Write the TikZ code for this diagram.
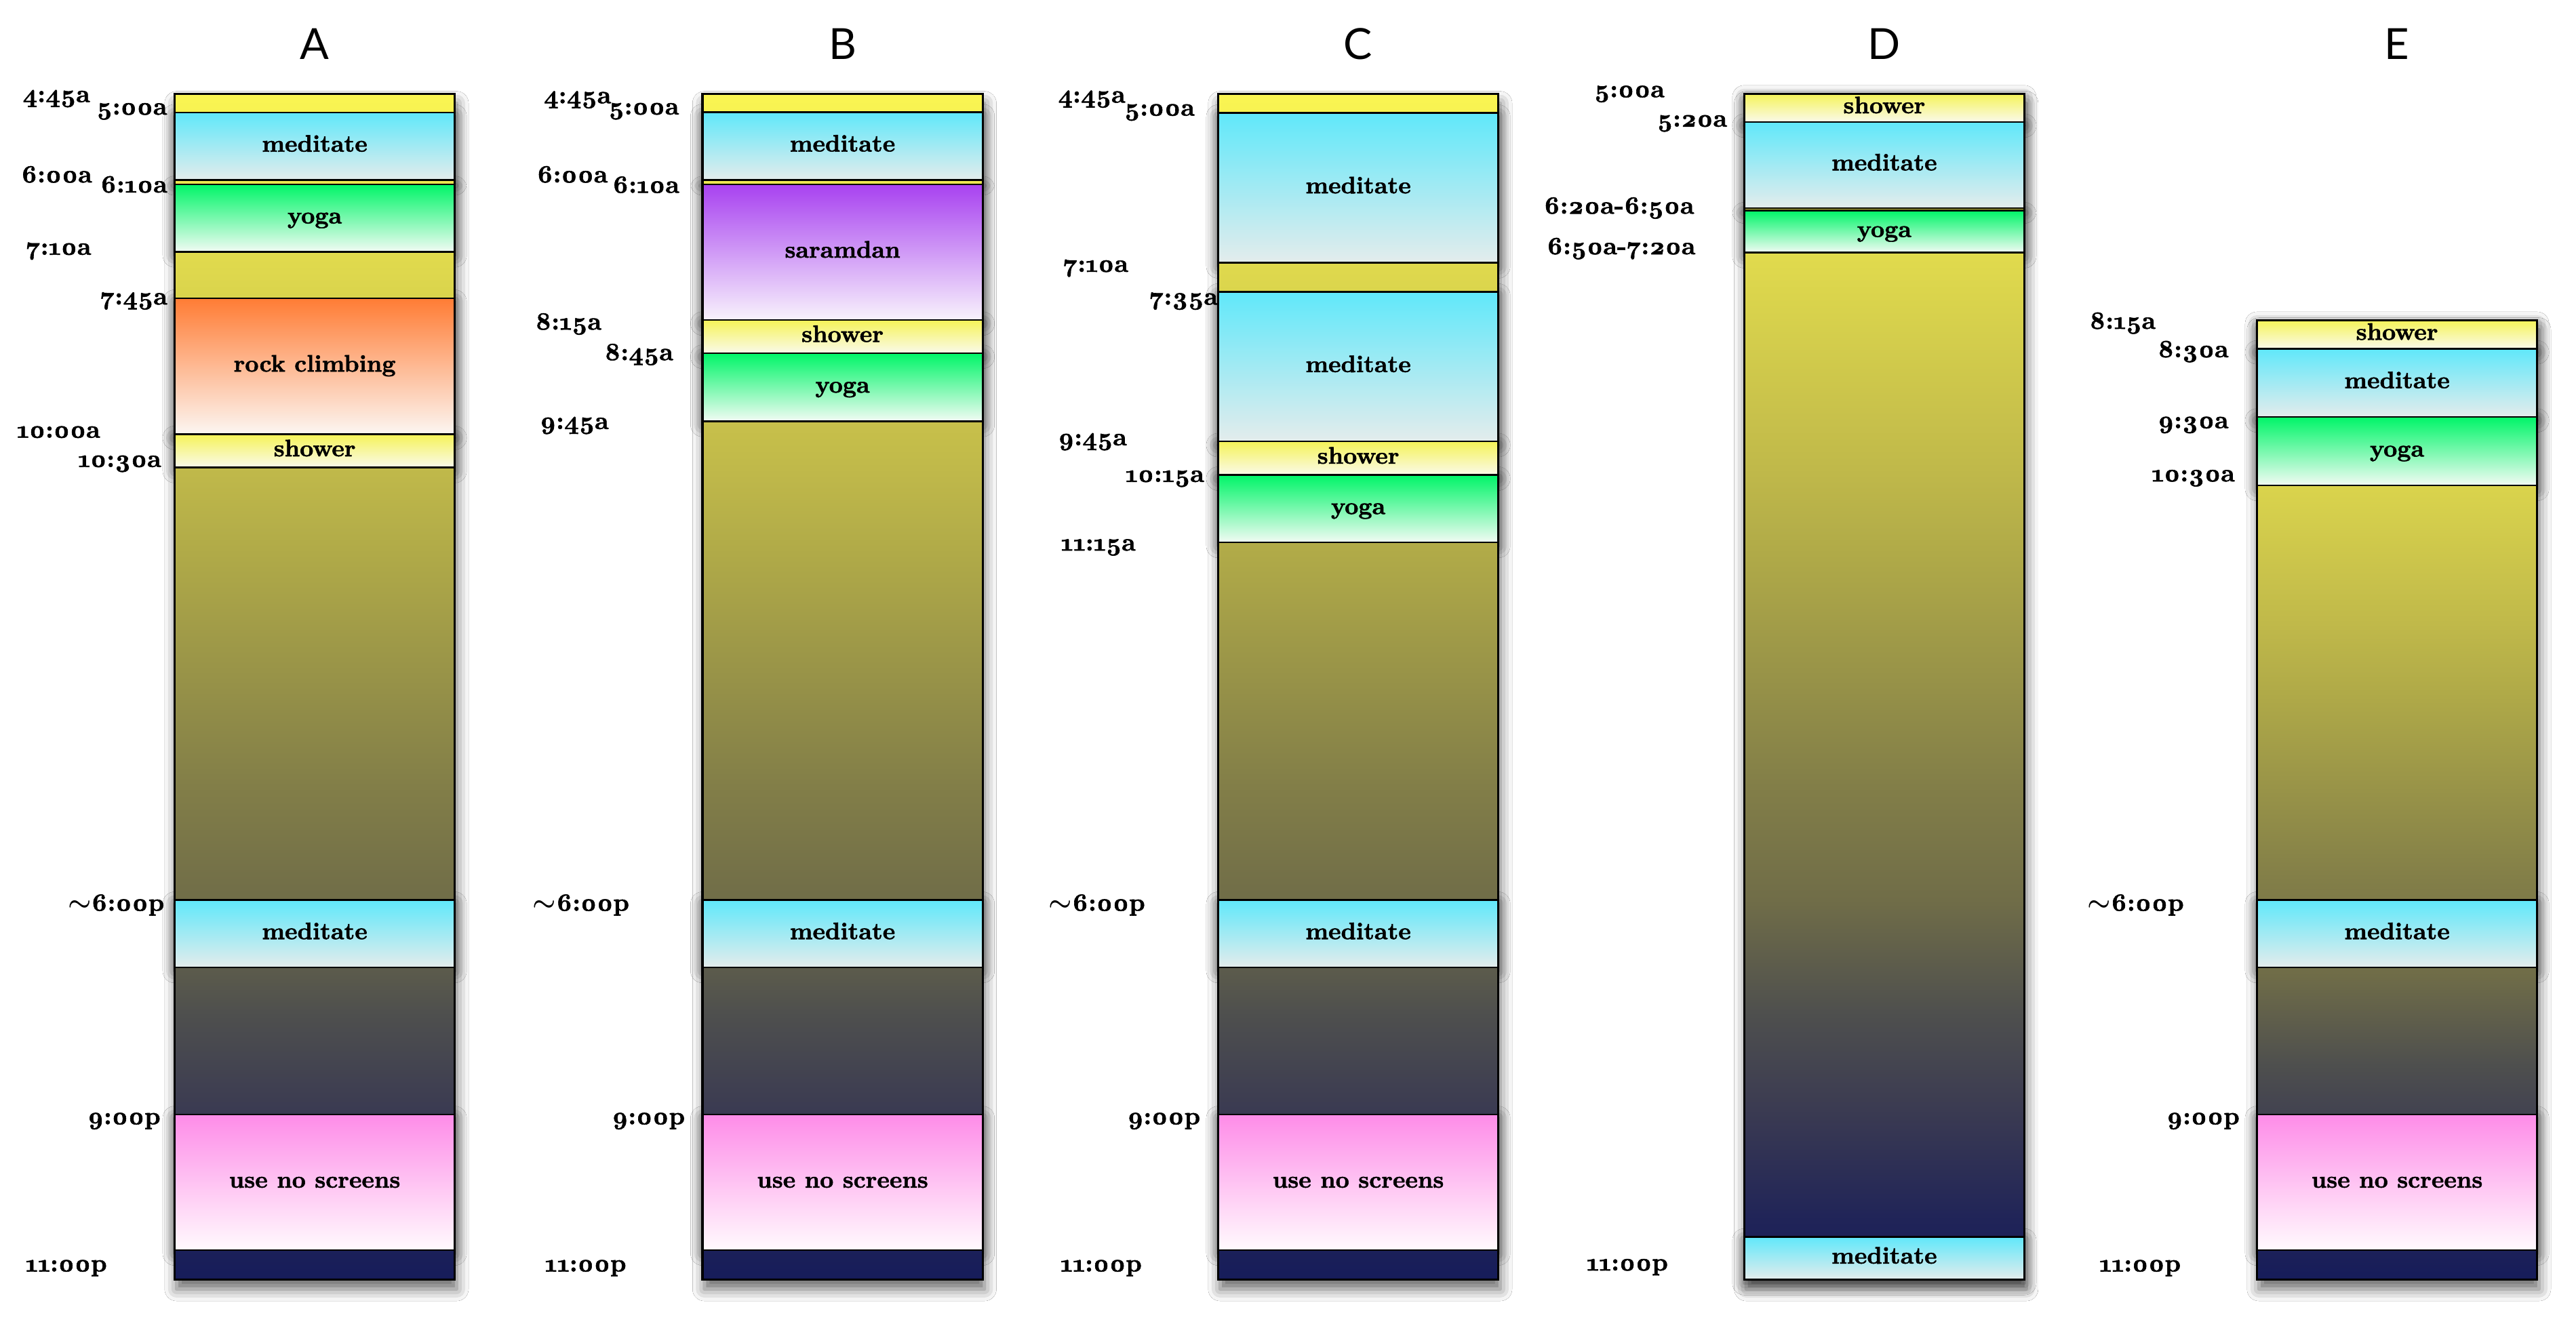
\documentclass[tikz,border=0pt]{standalone}
\usepackage{fontspec}
\newfontfamily\latofont{Lato}
\newfontfamily\lmheavy{Latin Modern Roman}[BoldFeatures={FakeBold=1.6}]
\usetikzlibrary{shadows.blur}

\definecolor{medtop}{RGB}{96,232,250}
\definecolor{medbot}{RGB}{228,236,236}
\definecolor{yogtop}{RGB}{0,245,104}
\definecolor{yogbot}{RGB}{242,251,244}
\definecolor{shwtop}{RGB}{245,243,88}
\definecolor{shwbot}{RGB}{250,250,234}
\definecolor{rcktop}{RGB}{255,124,52}
\definecolor{rckbot}{RGB}{252,246,242}
\definecolor{sartop}{RGB}{168,66,240}
\definecolor{sarbot}{RGB}{248,242,252}
\definecolor{pnktop}{RGB}{254,140,232}
\definecolor{pnkbot}{RGB}{255,250,253}

\definecolor{d0}{RGB}{22,28,90}
\definecolor{d1}{RGB}{32,36,88}
\definecolor{d2}{RGB}{58,58,82}
\definecolor{d3}{RGB}{78,79,78}
\definecolor{d4}{RGB}{112,109,72}
\definecolor{d5}{RGB}{130,126,72}
\definecolor{d6}{RGB}{176,170,72}
\definecolor{d7}{RGB}{192,185,74}
\definecolor{d8}{RGB}{225,219,77}
\definecolor{d9}{RGB}{250,245,82}

\pgfdeclareverticalshading{day}{100bp}{color(0bp)=(d0); color(25bp)=(d0);
  color(27.5bp)=(d1); color(31.99bp)=(d2); color(36.15bp)=(d3);
  color(41bp)=(d4); color(45.78bp)=(d5); color(55.61bp)=(d6);
  color(59.21bp)=(d7); color(68.35bp)=(d8); color(75bp)=(d9); color(100bp)=(d9)}

\tikzset{
  colshadow/.style={fill=white, blur shadow={shadow xshift=0.8pt, shadow yshift=-4pt, shadow blur radius=5pt, shadow opacity=60}},
  boxshadow/.style={fill=white, blur shadow={shadow xshift=0pt, shadow yshift=-1.5pt, shadow blur radius=5pt, shadow opacity=60}},
  bx/.style={draw=black, line width=0.7pt},
  med/.style={bx, top color=medtop, bottom color=medbot},
  yog/.style={bx, top color=yogtop, bottom color=yogbot},
  shw/.style={bx, top color=shwtop, bottom color=shwbot},
  rck/.style={bx, top color=rcktop, bottom color=rckbot},
  sar/.style={bx, top color=sartop, bottom color=sarbot},
  pnk/.style={bx, top color=pnktop, bottom color=pnkbot},
  colline/.style={draw=black, line width=0.9pt},
  boxtext/.style={font=\fontsize{10}{12}\selectfont\lmheavy\bfseries, inner sep=0pt, anchor=base},
  lbl/.style={font=\fontsize{10.5}{12}\selectfont\lmheavy\bfseries, inner sep=0pt, anchor=base},
  hdr/.style={font=\fontsize{18}{22}\selectfont\latofont, inner sep=0pt, anchor=base},
}

\newcommand{\Csh}[2]{\path[colshadow] (#1,#2) rectangle ({#1+170.5},779);}
\newcommand{\Bsh}[3]{\path[boxshadow] (#1,#2) rectangle ({#1+170.5},#3);}
\newcommand{\Cbg}[2]{\path[shading=day] (#1,#2) rectangle ({#1+170.5},779);}
\newcommand{\Actbox}[6]{\path[#4] (#1,#2) rectangle ({#1+170.5},#3);
  \node[boxtext] (#5) at ({#1+85.25},{(#2+#3)/2+3.3}) {#6};}
\newcommand{\Cln}[2]{\draw[colline] (#1,#2) rectangle ({#1+170.5},779);}
\newcommand{\Tlab}[4]{\node[lbl] (#1) at (#2,{#3+3.5}) {#4};}
\newcommand{\clk}[3]{\oldstylenums{#1}:\oldstylenums{#2}#3}
\newcommand{\apx}{\mbox{\boldmath$\sim$}}

\begin{document}
\begin{tikzpicture}[x=0.024228cm, y=-0.024228cm]
\fill[white] (0,0) rectangle (1568,806);
\useasboundingbox (0,0) rectangle (1568,806);

% headers
\node[hdr] (hA) at (191.55,36) {A};
\node[hdr] (hB) at (512.85,36) {B};
\node[hdr] (hC) at (826.75,36) {C};
\node[hdr] (hD) at (1146.95,36) {D};
\node[hdr] (hE) at (1459.05,36) {E};

% ---------------- Column A ----------------
\Csh{106.3}{57}
\Bsh{106.3}{68.6}{109.5}
\Bsh{106.3}{112.2}{153.3}
\Bsh{106.3}{181.5}{264.4}
\Bsh{106.3}{264.4}{284.6}
\Bsh{106.3}{548}{589}
\Bsh{106.3}{678.5}{761}
\Cbg{106.3}{57}
\Actbox{106.3}{68.6}{109.5}{med}{aMed1}{meditate}
\Actbox{106.3}{112.2}{153.3}{yog}{aYoga}{yoga}
\Actbox{106.3}{181.5}{264.4}{rck}{aRock}{rock climbing}
\Actbox{106.3}{264.4}{284.6}{shw}{aShow}{shower}
\Actbox{106.3}{548}{589}{med}{aMed2}{meditate}
\Actbox{106.3}{678.5}{761}{pnk}{aNoScr}{use no screens}
\Cln{106.3}{57}
\Tlab{aL1}{34.3}{58.7}{\clk{4}{45}{a}}
\Tlab{aL2}{80.3}{66.3}{\clk{5}{00}{a}}
\Tlab{aL3}{34.5}{107.6}{\clk{6}{00}{a}}
\Tlab{aL4}{81.5}{113.7}{\clk{6}{10}{a}}
\Tlab{aL5}{35.7}{151.6}{\clk{7}{10}{a}}
\Tlab{aL6}{81.5}{181.9}{\clk{7}{45}{a}}
\Tlab{aL7}{35.6}{263}{\clk{10}{00}{a}}
\Tlab{aL8}{72.8}{280.8}{\clk{10}{30}{a}}
\Tlab{aL9}{70.7}{551}{\apx\clk{6}{00}{p}}
\Tlab{aL10}{75.5}{681}{\clk{9}{00}{p}}
\Tlab{aL11}{40.3}{770.6}{\clk{11}{00}{p}}

% ---------------- Column B ----------------
\Csh{427.6}{57}
\Bsh{427.6}{68.4}{109.5}
\Bsh{427.6}{112.3}{194.8}
\Bsh{427.6}{194.8}{215}
\Bsh{427.6}{215}{256.5}
\Bsh{427.6}{548}{589}
\Bsh{427.6}{678.5}{761}
\Cbg{427.6}{57}
\Actbox{427.6}{68.4}{109.5}{med}{bMed1}{meditate}
\Actbox{427.6}{112.3}{194.8}{sar}{bSar}{saramdan}
\Actbox{427.6}{194.8}{215}{shw}{bShow}{shower}
\Actbox{427.6}{215}{256.5}{yog}{bYoga}{yoga}
\Actbox{427.6}{548}{589}{med}{bMed2}{meditate}
\Actbox{427.6}{678.5}{761}{pnk}{bNoScr}{use no screens}
\Cln{427.6}{57}
\Tlab{bL1}{351.5}{59.4}{\clk{4}{45}{a}}
\Tlab{bL2}{391.9}{66.2}{\clk{5}{00}{a}}
\Tlab{bL3}{348.4}{107.6}{\clk{6}{00}{a}}
\Tlab{bL4}{393.2}{113.9}{\clk{6}{10}{a}}
\Tlab{bL5}{346}{197.2}{\clk{8}{15}{a}}
\Tlab{bL6}{388.9}{215.8}{\clk{8}{45}{a}}
\Tlab{bL7}{349.6}{257.7}{\clk{9}{45}{a}}
\Tlab{bL8}{353.7}{551}{\apx\clk{6}{00}{p}}
\Tlab{bL9}{394.7}{681}{\clk{9}{00}{p}}
\Tlab{bL10}{356.4}{770.6}{\clk{11}{00}{p}}

% ---------------- Column C ----------------
\Csh{741.5}{57}
\Bsh{741.5}{68.8}{160}
\Bsh{741.5}{177.7}{268.8}
\Bsh{741.5}{268.8}{289.2}
\Bsh{741.5}{289.2}{330.2}
\Bsh{741.5}{548}{589}
\Bsh{741.5}{678.5}{761}
\Cbg{741.5}{57}
\Actbox{741.5}{68.8}{160}{med}{cMed1}{meditate}
\Actbox{741.5}{177.7}{268.8}{med}{cMed2}{meditate}
\Actbox{741.5}{268.8}{289.2}{shw}{cShow}{shower}
\Actbox{741.5}{289.2}{330.2}{yog}{cYoga}{yoga}
\Actbox{741.5}{548}{589}{med}{cMed3}{meditate}
\Actbox{741.5}{678.5}{761}{pnk}{cNoScr}{use no screens}
\Cln{741.5}{57}
\Tlab{cL1}{664.5}{59}{\clk{4}{45}{a}}
\Tlab{cL2}{705.8}{66.9}{\clk{5}{00}{a}}
\Tlab{cL3}{667}{162}{\clk{7}{10}{a}}
\Tlab{cL4}{720.5}{182}{\clk{7}{35}{a}}
\Tlab{cL5}{665}{267.6}{\clk{9}{45}{a}}
\Tlab{cL6}{709}{289.9}{\clk{10}{15}{a}}
\Tlab{cL7}{668.5}{331.7}{\clk{11}{15}{a}}
\Tlab{cL8}{667.7}{551}{\apx\clk{6}{00}{p}}
\Tlab{cL9}{708.4}{681}{\clk{9}{00}{p}}
\Tlab{cL10}{670.2}{770.6}{\clk{11}{00}{p}}

% ---------------- Column D ----------------
\Csh{1061.7}{57}
\Bsh{1061.7}{57}{74.3}
\Bsh{1061.7}{74.3}{126.6}
\Bsh{1061.7}{128.2}{153.8}
\Bsh{1061.7}{753}{779}
\Cbg{1061.7}{57}
\Actbox{1061.7}{57}{74.3}{shw}{dShow}{shower}
\Actbox{1061.7}{74.3}{126.6}{med}{dMed1}{meditate}
\Actbox{1061.7}{128.2}{153.8}{yog}{dYoga}{yoga}
\Actbox{1061.7}{753}{779}{med}{dMed2}{meditate}
\Cln{1061.7}{57}
\Tlab{dL1}{991.8}{55.7}{\clk{5}{00}{a}}
\Tlab{dL2}{1030}{73.6}{\clk{5}{20}{a}}
\Tlab{dL3}{985.5}{126.6}{\clk{6}{20}{a}-\clk{6}{50}{a}}
\Tlab{dL4}{986.8}{151.3}{\clk{6}{50}{a}-\clk{7}{20}{a}}
\Tlab{dL5}{990.5}{770}{\clk{11}{00}{p}}

% ---------------- Column E ----------------
\Csh{1373.8}{194.9}
\Bsh{1373.8}{194.9}{212.3}
\Bsh{1373.8}{212.3}{253.8}
\Bsh{1373.8}{253.8}{295.5}
\Bsh{1373.8}{548}{589}
\Bsh{1373.8}{678.5}{761}
\Cbg{1373.8}{194.9}
\Actbox{1373.8}{194.9}{212.3}{shw}{eShow}{shower}
\Actbox{1373.8}{212.3}{253.8}{med}{eMed1}{meditate}
\Actbox{1373.8}{253.8}{295.5}{yog}{eYoga}{yoga}
\Actbox{1373.8}{548}{589}{med}{eMed2}{meditate}
\Actbox{1373.8}{678.5}{761}{pnk}{eNoScr}{use no screens}
\Cln{1373.8}{194.9}
\Tlab{eL1}{1292}{196.7}{\clk{8}{15}{a}}
\Tlab{eL2}{1335}{214}{\clk{8}{30}{a}}
\Tlab{eL3}{1335}{257.2}{\clk{9}{30}{a}}
\Tlab{eL4}{1335}{289.6}{\clk{10}{30}{a}}
\Tlab{eL5}{1300}{551}{\apx\clk{6}{00}{p}}
\Tlab{eL6}{1341}{681}{\clk{9}{00}{p}}
\Tlab{eL7}{1302.6}{770.6}{\clk{11}{00}{p}}
\end{tikzpicture}
\end{document}
